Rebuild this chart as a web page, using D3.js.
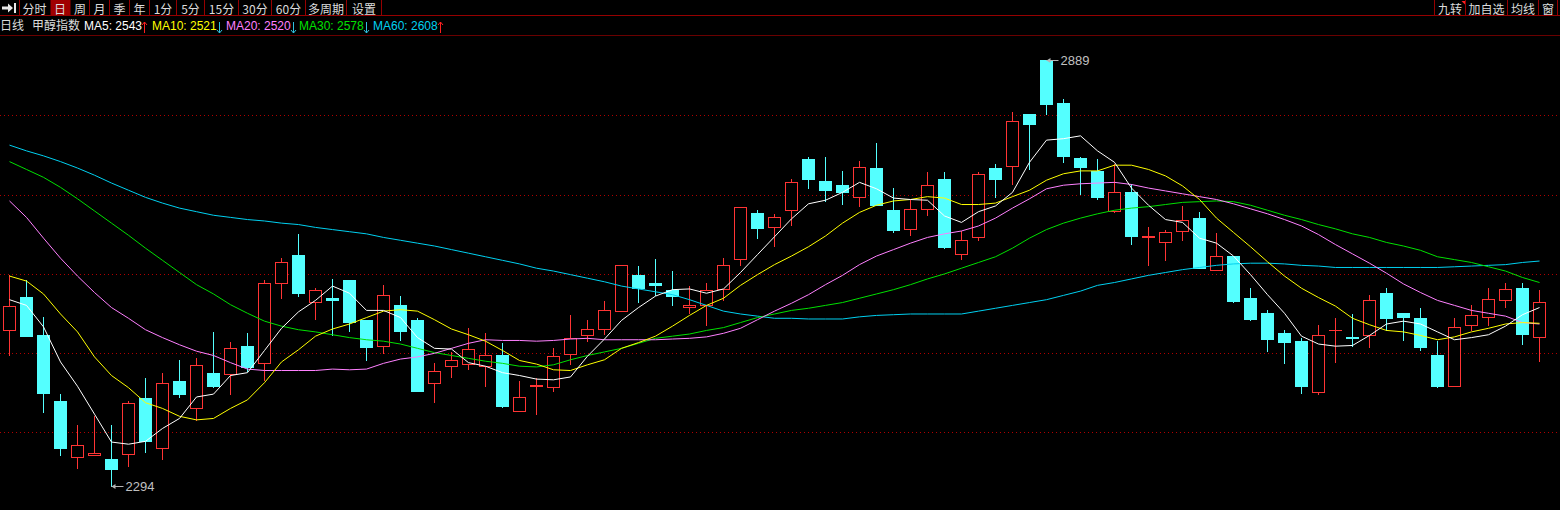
<!DOCTYPE html>
<html><head><meta charset="utf-8">
<script src="https://cdn.jsdelivr.net/npm/d3@7"></script>
<style>
html,body{margin:0;padding:0;background:#000;overflow:hidden}
svg{display:block}
text{font-family:"Liberation Sans","Noto Sans CJK SC",sans-serif}
.cjk{font-family:"Noto Sans CJK SC","Liberation Sans",sans-serif}
</style></head><body><svg id="c" width="1560" height="510"></svg>
<script>
// ---------------- data ----------------
const openP=[2512,2558,2505,2413,2334,2337,2332,2338,2416,2346,
2441,2403,2452,2450,2489,2466,2578,2616,2551,2557,
2582,2526,2489,2547,2526,2437,2461,2464,2461,2477,
2399,2434,2432,2478,2505,2513,2538,2589,2578,2568,
2544,2546,2569,2611,2675,2656,2679,2751,2720,2714,
2698,2738,2679,2653,2681,2722,2618,2642,2738,2741,
2813,2889,2829,2752,2734,2678,2704,2642,2635,2650,
2668,2596,2615,2557,2536,2508,2496,2425,2511,2502,
2504,2564,2536,2529,2477,2433,2518,2530,2554,2571,2502];
const highP=[2588,2581,2530,2422,2379,2392,2379,2413,2444,2452,
2470,2472,2509,2495,2507,2581,2612,2646,2570,2583,
2582,2526,2574,2559,2529,2466,2481,2515,2507,2494,
2441,2445,2487,2532,2525,2552,2602,2601,2611,2594,
2573,2577,2612,2684,2680,2674,2723,2754,2753,2734,
2748,2773,2710,2693,2733,2732,2650,2733,2744,2816,
2813,2889,2834,2754,2750,2743,2716,2655,2651,2685,
2676,2647,2615,2571,2540,2512,2501,2518,2529,2534,
2560,2570,2536,2543,2496,2528,2547,2570,2577,2577,2568];
const lowP=[2476,2503,2397,2337,2319,2337,2294,2321,2341,2332,
2418,2386,2432,2422,2455,2442,2556,2559,2527,2505,
2510,2470,2479,2497,2426,2411,2446,2457,2433,2404,
2399,2394,2426,2464,2496,2506,2538,2551,2560,2547,
2535,2519,2554,2603,2640,2629,2658,2710,2692,2688,
2685,2686,2649,2644,2673,2626,2611,2637,2698,2715,
2737,2814,2747,2702,2695,2677,2632,2602,2609,2637,
2598,2596,2551,2526,2482,2466,2424,2422,2467,2489,
2488,2511,2498,2483,2432,2433,2511,2518,2544,2492,2468];
const closeP=[2545,2503,2423,2346,2351,2340,2317,2410,2357,2438,
2422,2463,2434,2487,2460,2577,2607,2563,2568,2553,
2523,2488,2560,2510,2427,2455,2470,2485,2477,2405,
2418,2435,2475,2501,2513,2540,2602,2570,2574,2559,
2547,2567,2602,2683,2654,2670,2718,2723,2707,2705,
2739,2686,2651,2681,2714,2628,2637,2730,2723,2804,
2800,2828,2755,2739,2698,2705,2643,2643,2648,2666,
2598,2615,2552,2527,2499,2495,2434,2505,2511,2501,
2553,2528,2530,2488,2434,2516,2533,2555,2569,2506,2551];
const ma5=[2554,2546,2516,2467,2433,2394,2355,2352,2356,2374,
2388,2418,2422,2448,2452,2483,2514,2537,2553,2573,
2563,2539,2539,2529,2501,2486,2485,2466,2461,2452,
2448,2443,2442,2446,2475,2499,2525,2543,2559,2568,
2569,2563,2569,2592,2617,2642,2667,2688,2693,2704,
2718,2709,2696,2694,2693,2671,2662,2677,2685,2704,
2746,2777,2779,2783,2762,2746,2710,2686,2666,2662,
2640,2633,2615,2589,2561,2535,2503,2492,2489,2490,
2504,2520,2524,2520,2509,2498,2501,2505,2517,2533,2543];
const ma10=[2587,2580,2562,2534,2509,2474,2448,2431,2410,2402,
2391,2386,2388,2402,2414,2438,2467,2484,2503,2513,
2520,2529,2538,2540,2538,2526,2513,2505,2496,2483,
2469,2464,2456,2455,2463,2470,2486,2494,2503,2517,
2532,2546,2556,2574,2589,2603,2615,2628,2643,2661,
2676,2686,2692,2694,2698,2696,2687,2687,2689,2698,
2707,2721,2730,2734,2734,2742,2742,2736,2727,2713,
2694,2668,2648,2628,2607,2587,2570,2557,2545,2528,
2519,2511,2509,2504,2498,2502,2509,2514,2520,2522,2521];
const ma20=[2692,2669,2640,2612,2587,2564,2543,2528,2512,2501,
2491,2482,2476,2466,2457,2455,2455,2455,2455,2457,
2456,2457,2465,2471,2474,2479,2486,2493,2498,2497,
2497,2496,2497,2499,2500,2498,2498,2498,2498,2499,
2500,2502,2507,2514,2526,2538,2549,2561,2575,2588,
2603,2615,2624,2633,2641,2646,2650,2657,2668,2682,
2695,2709,2714,2716,2717,2718,2715,2710,2706,2702,
2698,2694,2688,2681,2674,2666,2657,2645,2631,2618,
2605,2591,2576,2564,2553,2546,2539,2535,2531,2522,2520];
const ma30=[2747,2736,2725,2711,2695,2678,2661,2644,2626,2609,
2592,2575,2562,2547,2535,2524,2517,2512,2509,2505,
2501,2498,2496,2492,2486,2480,2476,2472,2468,2465,
2461,2460,2463,2470,2476,2481,2486,2493,2500,2503,
2506,2511,2515,2522,2529,2534,2539,2542,2546,2550,
2556,2562,2568,2575,2583,2590,2598,2606,2614,2626,
2640,2652,2661,2668,2674,2679,2682,2684,2687,2690,
2691,2692,2691,2686,2679,2672,2666,2659,2653,2646,
2641,2634,2629,2623,2614,2610,2606,2600,2594,2585,2578];
const ma60=[2770,2762,2755,2747,2738,2728,2717,2707,2697,2689,
2682,2677,2672,2669,2666,2664,2661,2659,2655,2652,
2649,2646,2641,2637,2633,2629,2624,2619,2614,2609,
2604,2598,2594,2589,2584,2579,2573,2569,2565,2561,
2554,2546,2538,2534,2531,2528,2528,2527,2527,2527,
2530,2532,2533,2534,2534,2534,2534,2538,2542,2546,
2550,2554,2560,2566,2574,2578,2583,2588,2592,2596,
2599,2602,2604,2605,2605,2604,2602,2601,2599,2599,
2599,2599,2599,2599,2599,2600,2601,2602,2603,2606,2608];
const maNames=["MA5","MA10","MA20","MA30","MA60"];
const gridLevels=[2811.6,2701,2590.4,2479.8,2368.6];
const toolbarLabels=["分时","日","周","月","季","年","1分","5分","15分","30分","60分","多周期","设置"];
const rightToolbarLabels=["九转","加自选","均线","窗"];
const titleLabels=["日线","甲醇指数"];

// ---------------- layout ----------------
const W=1560,H=510;
const UP="#ff3434",DOWN="#54ffff";
const maColors=["#ffffff","#ffff00","#ff80ff","#00e000","#00d0f0"];
const sepLeft=[19.5,49.5,70.5,89.5,109.5,129.5,149.5,176.5,204.5,238.5,271.5,305.5,346.5,381.5];
const sepRight=[1434.5,1465.5,1507.5,1538.5,1557.5];
const legendX=[84,152,226,299,373];

const svg=d3.select("#c");
svg.append("rect").attr("width",W).attr("height",H).attr("fill","#000");

const n=closeP.length;
const idx=d3.range(n);
const x=d3.scalePoint().domain(idx).range([9.5,1539.5]);
const y=d3.scaleLinear().domain([d3.min(lowP),d3.max(highP)]).range([485.7,60]);

// gridlines
svg.append("g").attr("shape-rendering","crispEdges").selectAll("line").data(gridLevels).join("line")
  .attr("x1",0).attr("x2",W)
  .attr("y1",d=>Math.round(y(d))+0.5).attr("y2",d=>Math.round(y(d))+0.5)
  .attr("stroke","#b00000").attr("stroke-width",1).attr("stroke-dasharray","1,3");

// candles
const cg=svg.append("g").attr("shape-rendering","crispEdges");
idx.forEach(i=>{
  const o=openP[i],c=closeP[i],h=highP[i],l=lowP[i];
  const cx=Math.floor(x(i));
  const up=c>=o;
  const col=up?UP:DOWN;
  const yTop=Math.round(y(Math.max(o,c))), yBot=Math.round(y(Math.min(o,c)));
  const yH=Math.round(y(h)), yL=Math.round(y(l));
  if(yH<yTop) cg.append("line").attr("x1",cx+0.5).attr("x2",cx+0.5).attr("y1",yH).attr("y2",yTop).attr("stroke",col);
  if(yL>yBot) cg.append("line").attr("x1",cx+0.5).attr("x2",cx+0.5).attr("y1",yBot).attr("y2",yL+1).attr("stroke",col);
  if(yBot-yTop<1){
    cg.append("line").attr("x1",cx-6).attr("x2",cx+7).attr("y1",yTop+0.5).attr("y2",yTop+0.5).attr("stroke",col);
  } else if(up){
    cg.append("rect").attr("x",cx-5.5).attr("y",yTop+0.5).attr("width",12).attr("height",yBot-yTop)
      .attr("fill","#000").attr("stroke",col).attr("stroke-width",1);
  } else {
    cg.append("rect").attr("x",cx-6).attr("y",yTop).attr("width",13).attr("height",Math.max(1,yBot-yTop+1))
      .attr("fill",col);
  }
});

// moving averages
const maSeries=[ma5,ma10,ma20,ma30,ma60];
const line=d3.line().x((d,i)=>x(i)).y(d=>y(d));
svg.append("g").selectAll("path").data(maSeries.slice().reverse()).join("path")
  .attr("d",d=>line(d)).attr("fill","none")
  .attr("stroke",(d,i)=>maColors[maColors.length-1-i]).attr("stroke-width",1);

// high / low annotations
const hiI=d3.maxIndex(highP), loI=d3.minIndex(lowP);
function annot(i,val){
  const ax=Math.floor(x(i))+0.5, ay=Math.round(y(val))+0.5;
  const g=svg.append("g");
  g.append("line").attr("x1",ax).attr("x2",ax+12).attr("y1",ay).attr("y2",ay).attr("stroke","#b4b4b4");
  g.append("path").attr("d",`M${ax},${ay}L${ax+4},${ay-2.5}L${ax+4},${ay+2.5}Z`).attr("fill","#b4b4b4");
  g.append("text").attr("x",ax+14).attr("y",ay).attr("dy","0.36em")
    .attr("fill","#c0c0c0").attr("font-size",13).text(val);
}
annot(hiI,highP[hiI]);
annot(loI,lowP[loI]);

// ---------------- header ----------------
const hdr=svg.append("g");
hdr.append("rect").attr("x",0).attr("y",0).attr("width",W).attr("height",36).attr("fill","#000");
hdr.append("path").attr("d","M2,6.5H8V3.5L13,8L8,12.5V9.5H2Z").attr("fill","#e8e8e8");
hdr.append("rect").attr("x",14).attr("y",3).attr("width",2).attr("height",10).attr("fill","#e8e8e8");
hdr.append("rect").attr("x",sepLeft[1]+1).attr("y",0).attr("width",sepLeft[2]-sepLeft[1]-1).attr("height",15).attr("fill","#a00000");
toolbarLabels.forEach((t,i)=>{
  hdr.append("text").attr("class","cjk").attr("x",(sepLeft[i]+sepLeft[i+1])/2).attr("y",13.5)
    .attr("text-anchor","middle").attr("font-size",12).attr("fill","#dcdcdc").text(t);
});
rightToolbarLabels.forEach((t,i)=>{
  hdr.append("text").attr("class","cjk").attr("x",(sepRight[i]+sepRight[i+1])/2).attr("y",13.5)
    .attr("text-anchor","middle").attr("font-size",12).attr("fill","#dcdcdc").text(t);
});
hdr.append("path").attr("d",`M${sepRight[1]-4},1H${sepRight[1]}V5Z`).attr("fill","#ff2020");
const sepAll=sepLeft.filter((d,i)=>i!==1&&i!==2).concat(sepRight);
hdr.selectAll("line.sep").data(sepAll).join("line").attr("class","sep")
  .attr("x1",d=>d).attr("x2",d=>d).attr("y1",0).attr("y2",15)
  .attr("stroke","#960000");
hdr.append("line").attr("x1",0).attr("x2",W).attr("y1",15.5).attr("y2",15.5).attr("stroke","#960000");
hdr.append("line").attr("x1",0).attr("x2",W).attr("y1",35.5).attr("y2",35.5).attr("stroke","#6a0000");

hdr.append("text").attr("class","cjk").attr("x",0).attr("y",30).attr("font-size",12).attr("fill","#dcdcdc").text(titleLabels[0]);
hdr.append("text").attr("class","cjk").attr("x",32).attr("y",30).attr("font-size",12).attr("fill","#dcdcdc").text(titleLabels[1]);
maSeries.forEach((s,k)=>{
  const last=s[s.length-1], prev=s[s.length-2];
  const t=hdr.append("text").attr("x",legendX[k]).attr("y",30).attr("font-size",12)
    .attr("fill",maColors[k]).text(`${maNames[k]}: ${last}`);
  const tw=t.node().getComputedTextLength();
  const ax=Math.round(legendX[k]+tw+2)+0.5;
  const upA=last>prev;
  const col=upA?"#ff2020":"#30c0e0";
  const d=upA?`M${ax},33V22M${ax-2.5},25L${ax},22L${ax+2.5},25`:`M${ax},22V33M${ax-2.5},30L${ax},33L${ax+2.5},30`;
  hdr.append("path").attr("d",d).attr("fill","none").attr("stroke",col).attr("stroke-width",1);
});
</script></body></html>
